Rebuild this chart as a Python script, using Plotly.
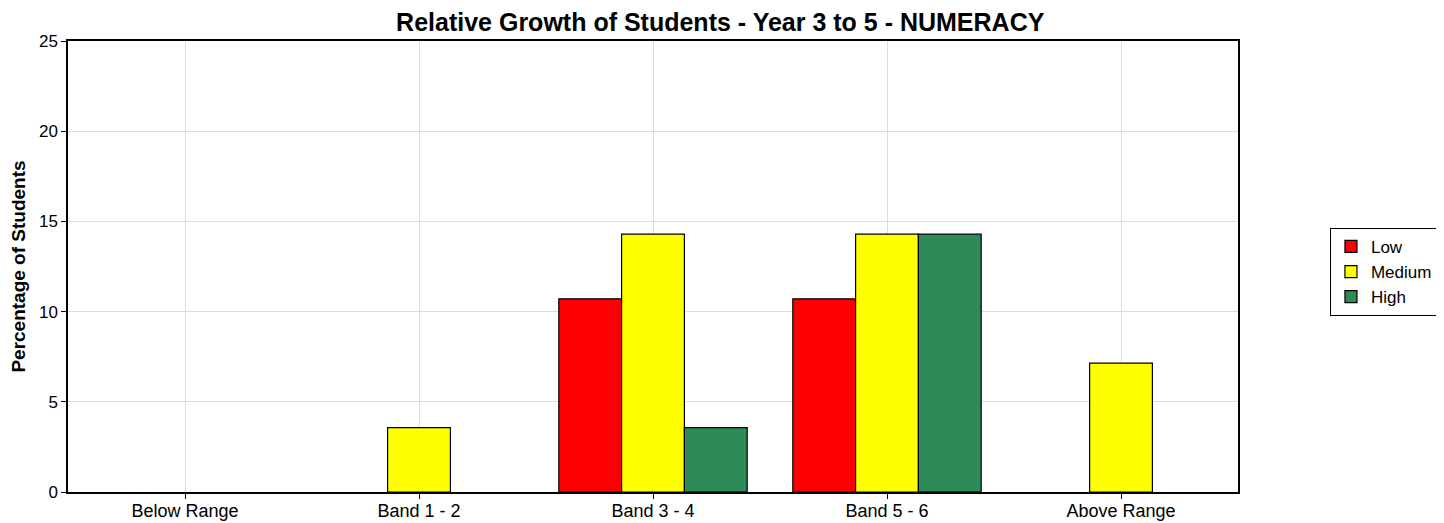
import plotly.graph_objects as go

categories = ["Below Range", "Band 1 - 2", "Band 3 - 4", "Band 5 - 6", "Above Range"]
low = [None, None, 10.71, 10.71, None]
medium = [None, 3.57, 14.29, 14.29, 7.14]
high = [None, None, 3.57, 14.29, None]
series_names = ["Low", "Medium", "High"]
colors = ["#FF0000", "#FFFF00", "#2E8B57"]

fig = go.Figure()
for name, vals, col in zip(series_names, [low, medium, high], colors):
    fig.add_trace(go.Bar(
        x=categories, y=vals, name=name,
        marker=dict(color=col, line=dict(color="black", width=1.2)),
    ))

font_family = "Liberation Sans, Arial, sans-serif"
fig.update_layout(
    width=1436, height=515,
    margin=dict(l=60, r=206, t=33, b=31, autoexpand=False),
    paper_bgcolor="white", plot_bgcolor="white",
    barmode="group", bargap=0.195, bargroupgap=0,
    font=dict(family=font_family, size=17, color="black"),
    title=dict(text="<b>Relative Growth of Students - Year 3 to 5 - NUMERACY</b>",
               x=0.496, xanchor="center", y=0.9728, yanchor="middle",
               font=dict(size=25, color="black")),
    legend=dict(x=1.0786, xanchor="left", y=0.488, yanchor="middle",
                bordercolor="black", borderwidth=1, bgcolor="white",
                font=dict(size=17), traceorder="normal",
                itemwidth=30, tracegroupgap=0),
    xaxis=dict(showline=True, linecolor="black", linewidth=1.5, mirror=True,
               showgrid=True, gridcolor="#DCDCDC", gridwidth=1,
               ticks="outside", ticklen=5, tickcolor="black",
               tickfont=dict(size=18), automargin=False, ticklabelstandoff=-3),
    yaxis=dict(range=[0, 25], dtick=5, showline=True, linecolor="black", linewidth=1.5,
               mirror=True, showgrid=True, gridcolor="#DCDCDC", gridwidth=1,
               ticks="outside", ticklen=5, tickcolor="black", zeroline=False,
               tickfont=dict(size=17), automargin=False,
               title=dict(text="<b>Percentage of Students</b>", font=dict(size=19), standoff=10)),
)

fig.write_html("out.html")
